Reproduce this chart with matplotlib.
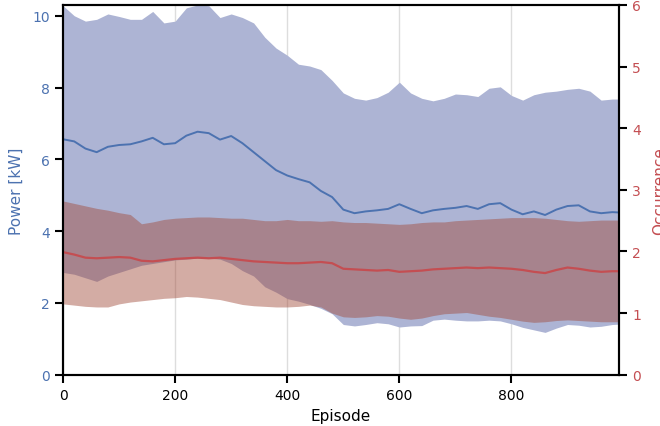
import matplotlib
matplotlib.use("Agg")
import matplotlib.pyplot as plt
import numpy as np

# episodes sampled from the plot
episode = list(range(0, 1000, 20)) + [992]

# power [kW]
power_mean = [6.56, 6.5, 6.3, 6.2, 6.35, 6.4, 6.42, 6.5, 6.6, 6.42,
              6.45, 6.66, 6.77, 6.73, 6.55, 6.65, 6.45, 6.2, 5.95, 5.7,
              5.55, 5.45, 5.36, 5.12, 4.95, 4.6, 4.5, 4.55, 4.58, 4.62,
              4.75, 4.62, 4.5, 4.58, 4.62, 4.65, 4.7, 4.62, 4.75, 4.78,
              4.6, 4.47, 4.55, 4.45, 4.6, 4.7, 4.72, 4.55, 4.5, 4.53, 4.52]
power_upper = [10.28, 10.0, 9.85, 9.9, 10.05, 9.98, 9.9, 9.9, 10.12, 9.8,
               9.85, 10.22, 10.3, 10.28, 9.95, 10.05, 9.95, 9.8, 9.4, 9.1,
               8.9, 8.65, 8.6, 8.5, 8.2, 7.85, 7.7, 7.65, 7.72, 7.87,
               8.15, 7.85, 7.7, 7.63, 7.7, 7.82, 7.8, 7.75, 7.98, 8.02,
               7.78, 7.65, 7.8, 7.87, 7.9, 7.95, 7.98, 7.9, 7.65, 7.68, 7.68]
power_lower = [2.85, 2.8, 2.7, 2.6, 2.75, 2.85, 2.95, 3.05, 3.1, 3.15,
               3.2, 3.22, 3.25, 3.25, 3.22, 3.1, 2.9, 2.75, 2.45, 2.3,
               2.12, 2.05, 1.96, 1.85, 1.7, 1.4, 1.36, 1.4, 1.45, 1.42,
               1.33, 1.36, 1.37, 1.52, 1.55, 1.52, 1.5, 1.5, 1.52, 1.5,
               1.42, 1.32, 1.25, 1.18, 1.3, 1.4, 1.38, 1.33, 1.35, 1.4, 1.41]

# occurrence
occ_mean = [1.99, 1.95, 1.9, 1.89, 1.9, 1.91, 1.9, 1.85, 1.84, 1.86,
            1.88, 1.89, 1.9, 1.89, 1.9, 1.88, 1.86, 1.84, 1.83, 1.82,
            1.81, 1.81, 1.82, 1.83, 1.81, 1.72, 1.71, 1.7, 1.69, 1.7,
            1.67, 1.68, 1.69, 1.71, 1.72, 1.73, 1.74, 1.73, 1.74, 1.73,
            1.72, 1.7, 1.67, 1.65, 1.7, 1.74, 1.72, 1.69, 1.67, 1.68, 1.68]
occ_upper = [2.82, 2.78, 2.74, 2.7, 2.67, 2.63, 2.6, 2.45, 2.48, 2.52,
             2.54, 2.55, 2.56, 2.56, 2.55, 2.54, 2.54, 2.52, 2.5, 2.5,
             2.52, 2.5, 2.5, 2.49, 2.5, 2.48, 2.47, 2.47, 2.46, 2.45,
             2.44, 2.45, 2.47, 2.48, 2.48, 2.5, 2.51, 2.52, 2.53, 2.54,
             2.55, 2.55, 2.55, 2.54, 2.52, 2.5, 2.49, 2.5, 2.51, 2.51, 2.51]
occ_lower = [1.15, 1.13, 1.11, 1.1, 1.1, 1.15, 1.18, 1.2, 1.22, 1.24,
             1.25, 1.27, 1.26, 1.24, 1.22, 1.18, 1.14, 1.12, 1.11, 1.1,
             1.1, 1.11, 1.13, 1.1, 1.0, 0.94, 0.93, 0.94, 0.96, 0.95,
             0.92, 0.9, 0.92, 0.96, 0.99, 1.0, 1.01, 0.98, 0.95, 0.93,
             0.9, 0.87, 0.85, 0.86, 0.88, 0.89, 0.88, 0.87, 0.86, 0.86, 0.86]

blue = "#4c72b0"
red = "#c44e52"

plt.rcParams["font.family"] = "DejaVu Sans"
fig, ax = plt.subplots(figsize=(6.6, 4.27), dpi=100)
fig.subplots_adjust(left=0.0955, right=0.938, top=0.986, bottom=0.12)

ax.fill_between(episode, power_lower, power_upper, color="#adb4d4", lw=0)
ax.plot(episode, power_mean, color=blue, lw=1.4)
ax.set_xlim(0, 992)
ax.set_ylim(0, 10.3)
ax.set_yticks([0, 2, 4, 6, 8, 10])
ax.set_xticks([0, 200, 400, 600, 800])
ax.grid(axis="x", color="#dddddd", lw=1)
ax.set_axisbelow(True)
ax.set_xlabel("Episode", fontsize=11)
ax.set_ylabel("Power [kW]", color=blue, fontsize=11, labelpad=6)
ax.tick_params(axis="y", colors="black", labelcolor=blue, labelsize=10,
               length=6, width=1.5)
ax.tick_params(axis="x", labelsize=10, length=6, width=1.5)

ax2 = ax.twinx()
ax2.fill_between(episode, occ_lower, occ_upper, color="#a14a39", alpha=0.46, lw=0)
ax2.plot(episode, occ_mean, color=red, lw=1.6)
ax2.set_ylim(0, 6)
ax2.set_yticks([0, 1, 2, 3, 4, 5, 6])
ax2.set_ylabel("Occurrence", color=red, fontsize=11, labelpad=8)
ax2.tick_params(axis="y", colors="black", labelcolor=red, labelsize=10,
                length=6, width=1.5)

for a in (ax, ax2):
    for s in a.spines.values():
        s.set_linewidth(1.5)

fig.savefig("out.png", dpi=100)
